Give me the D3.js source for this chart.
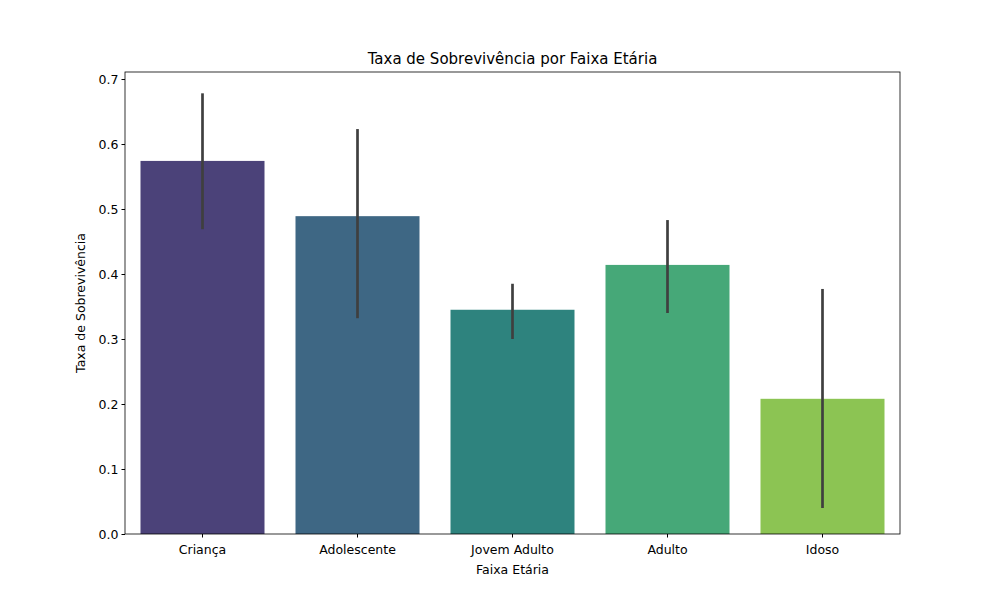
<!DOCTYPE html>
<html><head><meta charset="utf-8">
<script src="https://cdn.jsdelivr.net/npm/d3@7"></script>
<style>body{margin:0;background:#fff}text{font-family:"DejaVu Sans",sans-serif}</style>
</head><body><svg id="c" width="1000" height="600"></svg>
<script>
const categories = ["Criança","Adolescente","Jovem Adulto","Adulto","Idoso"];
const values = [0.574,0.489,0.345,0.414,0.208];
const errLow = [0.469,0.332,0.300,0.340,0.040];
const errHigh = [0.678,0.623,0.385,0.483,0.377];
const colors = ["#4b4279","#3e6784","#2e837e","#46a878","#8cc453"];
const yTicks = [0,0.1,0.2,0.3,0.4,0.5,0.6,0.7];

const svg = d3.select("#c");
const L=125,R=900,T=72,B=534;
const x = d3.scaleBand().domain(categories).range([L,R]).paddingInner(0.2).paddingOuter(0.1);
const y = d3.scaleLinear().domain([0,0.7108]).range([B,T]);

svg.selectAll("rect.bar").data(categories).enter().append("rect")
 .attr("x",d=>x(d)).attr("width",x.bandwidth())
 .attr("y",(d,i)=>y(values[i])).attr("height",(d,i)=>B-y(values[i]))
 .attr("fill",(d,i)=>colors[i]);
svg.selectAll("line.err").data(categories).enter().append("line")
 .attr("x1",d=>x(d)+x.bandwidth()/2).attr("x2",d=>x(d)+x.bandwidth()/2)
 .attr("y1",(d,i)=>y(errLow[i])).attr("y2",(d,i)=>y(errHigh[i]))
 .attr("stroke","#3f3f3f").attr("stroke-width",2.7);

const ya = svg.append("g").attr("transform",`translate(${L},0)`)
 .call(d3.axisLeft(y).tickValues(yTicks).tickFormat(d3.format(".1f")).tickSizeOuter(0).tickSize(3.5));
const xa = svg.append("g").attr("transform",`translate(0,${B})`)
 .call(d3.axisBottom(x).tickSizeOuter(0).tickSize(3.5));
[ya,xa].forEach(a=>{a.selectAll("text").attr("font-size",12.5).attr("fill","#000");a.select(".domain").remove();a.selectAll("line").attr("stroke","#000");});
xa.selectAll("text").attr("dy","1.1em");
svg.append("rect").attr("x",L).attr("y",T).attr("width",R-L).attr("height",B-T)
 .attr("fill","none").attr("stroke","#000").attr("stroke-width",0.8);

svg.append("text").attr("x",(L+R)/2).attr("y",64).attr("text-anchor","middle").attr("font-size",15).text("Taxa de Sobrevivência por Faixa Etária");
svg.append("text").attr("x",(L+R)/2).attr("y",574).attr("text-anchor","middle").attr("font-size",12.5).text("Faixa Etária");
svg.append("text").attr("transform",`translate(85,${(T+B)/2}) rotate(-90)`).attr("text-anchor","middle").attr("font-size",12.5).text("Taxa de Sobrevivência");
</script></body></html>
